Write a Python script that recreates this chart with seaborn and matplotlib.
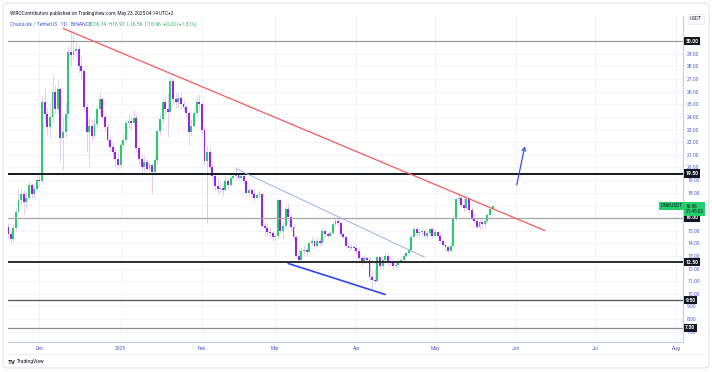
import numpy as np
import pandas as pd
import matplotlib
matplotlib.use("Agg")
import matplotlib.pyplot as plt
import matplotlib.dates as mdates
import matplotlib.transforms as mtransforms
from matplotlib.patches import FancyBboxPatch
from matplotlib.lines import Line2D
import seaborn as sns

# daily candles LINK/USDT (Nov 19 2024 -> May 23 2025)
nov_open = [15.3, 14.7, 14.3, 15.2, 16.5, 17.4, 17.9, 17.3, 17.6, 18.6, 17.9, 18.3]
nov_high = [15.6, 15.0, 15.5, 16.8, 18.3, 18.4, 18.2, 18.1, 18.9, 18.8, 18.6, 19.3]
nov_low = [14.4, 14.0, 14.1, 15.0, 16.3, 17.0, 16.3, 16.9, 17.4, 17.6, 17.7, 18.2]
nov_close = [14.7, 14.3, 15.2, 16.5, 17.4, 17.9, 17.3, 17.6, 18.6, 17.9, 18.3, 19.0]

dec_open = [19.0, 18.9, 25.2, 24.2, 23.2, 24.0, 26.0, 24.6, 26.2, 22.3, 22.8, 24.2, 29.1, 28.9, 29.2, 29.4,
            28.0, 27.6, 24.8, 22.8, 23.3, 22.5, 23.4, 24.6, 25.4, 24.0, 23.2, 22.2, 21.6, 21.2, 20.7]
dec_high = [19.6, 25.6, 26.3, 24.8, 25.2, 27.3, 26.5, 26.8, 26.4, 24.0, 25.2, 29.6, 30.9, 30.5, 30.0, 29.6,
            28.7, 27.9, 25.1, 24.0, 23.8, 23.9, 24.9, 26.0, 25.6, 24.3, 23.5, 22.6, 22.0, 21.6, 21.2]
dec_low = [18.5, 18.7, 23.8, 22.6, 22.4, 23.6, 24.2, 24.3, 20.5, 19.8, 22.3, 24.0, 28.0, 28.5, 28.7, 27.5,
           26.8, 24.4, 21.2, 20.1, 22.0, 22.3, 23.1, 24.3, 23.7, 22.8, 21.8, 21.2, 20.7, 20.0, 19.9]
dec_close = [18.9, 25.2, 24.2, 23.2, 24.0, 26.0, 24.6, 26.2, 22.3, 22.8, 24.2, 29.1, 28.9, 29.2, 29.4, 28.0,
             27.6, 24.8, 22.8, 23.3, 22.5, 23.4, 24.6, 25.4, 24.0, 23.2, 22.2, 21.6, 21.2, 20.7, 20.2]

jan_open = [20.2, 21.8, 22.2, 23.5, 23.7, 23.5, 23.9, 21.5, 20.7, 20.0, 20.4, 19.9, 20.2, 19.6, 20.6, 22.9,
            23.8, 25.2, 24.6, 24.4, 26.8, 25.4, 25.2, 25.5, 25.0, 24.8, 24.3, 22.8, 23.3, 24.3, 25.2]
jan_high = [22.0, 22.7, 23.8, 24.2, 24.0, 24.6, 24.2, 21.8, 21.0, 20.9, 20.7, 20.5, 20.3, 20.9, 23.2, 24.3,
            25.5, 25.6, 25.9, 27.2, 27.1, 25.9, 26.0, 26.0, 25.3, 25.0, 24.4, 23.8, 24.6, 25.6, 25.8]
jan_low = [20.0, 21.5, 22.0, 23.1, 23.0, 23.3, 21.2, 20.2, 19.5, 19.6, 19.7, 19.7, 18.0, 19.4, 20.3, 22.6,
           23.5, 24.1, 22.4, 24.2, 25.0, 24.7, 24.8, 24.6, 24.5, 24.0, 21.8, 22.6, 23.1, 24.1, 24.5]
jan_close = [21.8, 22.2, 23.5, 23.7, 23.5, 23.9, 21.5, 20.7, 20.0, 20.4, 19.9, 20.2, 19.6, 20.6, 22.9, 23.8,
             25.2, 24.6, 24.4, 26.8, 25.4, 25.2, 25.5, 25.0, 24.8, 24.3, 22.8, 23.3, 24.3, 25.2, 25.0]

feb_open = [25.0, 23.0, 20.5, 21.2, 20.0, 19.3, 18.5, 18.3, 18.4, 18.2, 18.9, 18.6, 19.2, 19.3,
            19.5, 19.2, 19.3, 18.9, 18.0, 18.2, 17.9, 17.6, 17.8, 17.9, 15.4, 15.2, 14.9, 14.8]
feb_high = [25.2, 23.3, 21.8, 21.6, 20.3, 19.6, 19.2, 18.9, 18.7, 19.3, 19.2, 19.5, 19.7, 20.0,
            19.6, 19.5, 19.5, 19.0, 18.5, 18.4, 18.2, 18.0, 18.2, 18.0, 15.8, 15.6, 15.3, 15.0]
feb_low = [22.7, 20.2, 15.6, 19.8, 19.0, 18.2, 17.9, 18.0, 17.8, 18.1, 18.4, 18.5, 19.0, 19.1,
           19.0, 19.0, 18.7, 17.8, 17.7, 17.6, 17.3, 17.5, 17.6, 15.2, 14.6, 14.6, 14.3, 14.2]
feb_close = [23.0, 20.5, 21.2, 20.0, 19.3, 18.5, 18.3, 18.4, 18.2, 18.9, 18.6, 19.2, 19.3, 19.5,
             19.2, 19.3, 18.9, 18.0, 18.2, 17.9, 17.6, 17.8, 17.9, 15.4, 15.2, 14.9, 14.8, 14.5]

mar_open = [14.5, 14.6, 17.4, 15.0, 15.4, 16.7, 16.1, 15.3, 14.5, 13.0, 12.7, 13.4, 13.5, 13.3, 14.0, 14.2,
            13.8, 14.2, 14.0, 15.0, 14.7, 14.6, 14.8, 15.5, 15.8, 15.6, 14.7, 14.5, 13.8, 13.6, 13.7]
mar_high = [14.8, 17.6, 17.5, 15.8, 17.0, 17.2, 16.3, 15.5, 14.6, 13.6, 13.7, 13.9, 13.7, 14.2, 14.5, 14.3,
            14.5, 14.4, 15.3, 15.1, 14.9, 15.0, 15.7, 16.0, 16.0, 15.7, 14.9, 14.6, 13.9, 14.0, 13.9]
mar_low = [14.2, 14.4, 14.8, 14.3, 15.1, 15.8, 15.0, 14.2, 12.8, 12.4, 12.5, 13.1, 13.0, 13.2, 13.9, 13.6,
           13.7, 13.8, 13.9, 14.5, 14.4, 14.5, 14.7, 15.3, 15.4, 14.6, 14.3, 13.6, 13.4, 13.5, 13.3]
mar_close = [14.6, 17.4, 15.0, 15.4, 16.7, 16.1, 15.3, 14.5, 13.0, 12.7, 13.4, 13.5, 13.3, 14.0, 14.2, 13.8,
             14.2, 14.0, 15.0, 14.7, 14.6, 14.8, 15.5, 15.8, 15.6, 14.7, 14.5, 13.8, 13.6, 13.7, 13.6]

apr_open = [13.6, 13.4, 12.8, 12.6, 12.8, 12.7, 11.3, 11.1, 11.0, 12.9, 12.2, 12.7, 13.0, 12.5, 12.6,
            12.2, 12.3, 12.6, 12.7, 13.0, 13.2, 13.5, 14.5, 15.1, 14.8, 14.9, 15.0, 14.6, 14.8, 15.1]
apr_high = [13.9, 13.6, 13.0, 13.1, 13.0, 12.9, 11.9, 12.0, 13.1, 12.9, 12.9, 13.3, 13.2, 13.0, 12.8,
            12.6, 12.8, 12.9, 13.2, 13.4, 13.8, 14.7, 15.4, 15.3, 15.2, 15.3, 15.1, 15.0, 15.3, 15.2]
apr_low = [13.1, 12.6, 12.2, 12.4, 12.5, 11.1, 10.3, 10.8, 10.9, 12.0, 12.0, 12.5, 12.3, 12.3, 12.0,
           12.0, 12.1, 12.5, 12.6, 12.9, 13.1, 13.4, 14.4, 14.5, 14.5, 14.6, 14.4, 14.3, 14.6, 14.4]
apr_close = [13.4, 12.8, 12.6, 12.8, 12.7, 11.3, 11.1, 11.0, 12.9, 12.2, 12.7, 13.0, 12.5, 12.6, 12.2,
             12.3, 12.6, 12.7, 13.0, 13.2, 13.5, 14.5, 15.1, 14.8, 14.9, 15.0, 14.6, 14.8, 15.1, 14.6]

may_open = [14.6, 14.9, 14.6, 14.2, 13.9, 13.7, 13.4, 13.8, 16.0, 17.5, 17.6, 17.0,
            16.8, 17.5, 16.6, 16.0, 15.8, 15.3, 15.7, 15.5, 15.8, 16.2, 16.74]
may_high = [15.1, 15.0, 14.7, 14.3, 14.0, 13.8, 14.1, 16.2, 17.7, 18.0, 17.8, 17.9,
            17.8, 17.7, 16.9, 16.3, 16.0, 15.9, 15.9, 16.0, 16.4, 16.9, 16.97]
may_low = [14.5, 14.4, 14.1, 13.8, 13.5, 13.2, 13.3, 13.7, 15.8, 17.2, 16.8, 16.5,
           16.6, 16.4, 15.8, 15.5, 15.1, 15.1, 15.1, 15.3, 15.6, 16.1, 16.59]
may_close = [14.9, 14.6, 14.2, 13.9, 13.7, 13.4, 13.8, 16.0, 17.5, 17.6, 17.0, 16.8,
             17.5, 16.6, 16.0, 15.8, 15.3, 15.7, 15.5, 15.8, 16.2, 16.74, 16.96]

# drawings on the chart
level_prices = [30.0, 19.5, 16.0, 12.5, 9.5, 7.3]
level_labels = ["30.00", "19.50", "16.00", "12.50", "9.50", "7.30"]
level_colors = ["#9a9a9a", "#131722", "#a6a6a6", "#2b2b2b", "#5c5c5c", "#8c8c8c"]
level_widths = [0.9, 1.4, 0.9, 1.4, 1.0, 0.9]

red_dates = ["2024-12-10", "2025-06-12"]
red_prices = [31.0, 15.0]
channel_dates = ["2025-02-14", "2025-04-27"]
channel_prices = [19.9, 12.9]
support_dates = ["2025-03-06", "2025-04-12"]
support_prices = [12.4, 9.95]
arrow_dates = ["2025-06-01T00:00", "2025-06-04T12:00"]
arrow_prices = [18.4, 21.9]

month_starts = ["2024-12-01", "2025-01-01", "2025-02-01", "2025-03-01", "2025-04-01",
                "2025-05-01", "2025-06-01", "2025-07-01", "2025-08-01"]
month_labels = ["Dec", "2025", "Feb", "Mar", "Apr", "May", "Jun", "Jul", "Aug"]
price_ticks = list(range(7, 31))
hidden_ticks = [16, 17, 30]   # covered by the level / last-price boxes

o = np.array(nov_open + dec_open + jan_open + feb_open + mar_open + apr_open + may_open)
h = np.array(nov_high + dec_high + jan_high + feb_high + mar_high + apr_high + may_high)
l = np.array(nov_low + dec_low + jan_low + feb_low + mar_low + apr_low + may_low)
c = np.array(nov_close + dec_close + jan_close + feb_close + mar_close + apr_close + may_close)
dates = pd.date_range("2024-11-19", periods=len(c), freq="D")
x = mdates.date2num(dates)

df = pd.DataFrame({"date": x, "open": o, "high": h, "low": l, "close": c})

sns.set_theme(style="white")
plt.rcParams["font.family"] = ["Roboto", "DejaVu Sans"]

W, H = 712, 372
fig = plt.figure(figsize=(W / 100, H / 100), dpi=100)
fig.patch.set_facecolor("white")

def fx(px):
    return px / W

def fy(py):
    return 1 - py / H

def to_num(ds):
    return mdates.date2num(pd.to_datetime(ds, format="ISO8601"))

ax = fig.add_axes([fx(8), fy(342), fx(675), (342 - 17) / H])
ax.set_facecolor("white")

up, down, wick = "#22cf6b", "#9b1ff0", "#dcc4f6"
cols = np.where(df["close"] >= df["open"], up, down)

# grid
for m in to_num(month_starts):
    ax.axvline(m, color="#f1f3f9", lw=0.6, zorder=0)
for p in price_ticks:
    ax.axhline(p, color="#f1f3f9", lw=0.6, zorder=0)

ax.vlines(df["date"], df["low"], df["high"], color=wick, lw=0.6, zorder=2)
bottom = np.minimum(df["open"], df["close"])
height = np.maximum((df["close"] - df["open"]).abs(), 0.06)
ax.bar(df["date"], height, bottom=bottom, width=0.72, color=cols, linewidth=0, zorder=3)

for p, col, lw in zip(level_prices, level_colors, level_widths):
    ax.axhline(p, color=col, lw=lw, zorder=4)

sns.lineplot(x=to_num(red_dates), y=red_prices, ax=ax, color="#f25a5a", lw=0.9, zorder=5)
sns.lineplot(x=to_num(channel_dates), y=channel_prices, ax=ax, color="#a3aaf0", lw=0.7, zorder=5)
sns.lineplot(x=to_num(support_dates), y=support_prices, ax=ax, color="#3144e6", lw=1.2, zorder=5)
ad = to_num(arrow_dates)
ax.annotate("", xy=(ad[1], arrow_prices[1]), xytext=(ad[0], arrow_prices[0]),
            arrowprops=dict(arrowstyle="->", color="#3453ee", lw=0.9, mutation_scale=6), zorder=6)

ax.set_xlim(to_num(["2024-11-19"])[0] - 0.0, to_num(["2025-08-01"])[0] + 2.67)
ax.set_ylim(6.19, 31.9)

ax.set_xticks(to_num(month_starts))
ax.set_xticklabels(month_labels)
ax.set_yticks(price_ticks)
ax.set_yticklabels(["" if p in hidden_ticks else f"{p:.2f}" for p in price_ticks])
ax.yaxis.tick_right()
ax.tick_params(axis="y", length=0, pad=3, labelsize=3.6, labelcolor="#4b5bd6")
ax.tick_params(axis="x", length=0, pad=3, labelsize=3.6, labelcolor="#4b5bd6")
for s in ["top", "left"]:
    ax.spines[s].set_visible(False)
for s in ["right", "bottom"]:
    ax.spines[s].set_color("#c3c9f5")
    ax.spines[s].set_linewidth(0.8)
ax.set_xlabel("")
ax.set_ylabel("")

# price-axis labels for the drawn levels
trans = mtransforms.blended_transform_factory(ax.transAxes, ax.transData)
for p, lab in zip(level_prices, level_labels):
    ax.text(1.0035, p, lab, transform=trans, ha="left", va="center", fontsize=3.6,
            color="white", fontweight="bold", clip_on=False, zorder=10,
            bbox=dict(boxstyle="square,pad=0.35", fc="#131722", ec="none"))

ax.text(0.999, 16.96, "LINKUSDT", transform=trans, ha="right", va="center", fontsize=3.4,
        color="#131722", clip_on=False, zorder=10,
        bbox=dict(boxstyle="square,pad=0.35", fc="#22cf6b", ec="none"))
ax.text(1.0035, 16.72, "16.96\n21:45:02", transform=trans, ha="left", va="center", fontsize=3.4,
        color="#131722", linespacing=1.1, clip_on=False, zorder=10,
        bbox=dict(boxstyle="square,pad=0.35", fc="#22cf6b", ec="none"))

# header texts
fig.text(fx(10), fy(13), "WIROContributors published on TradingView.com, May 23, 2025 04:14 UTC+2",
         fontsize=3.4, color="#131722", va="center")
fig.text(fx(10), fy(24), "ChainLink / TetherUS · 1D · BINANCE", fontsize=3.6, color="#4b5bd6", va="center")
fig.text(fx(90), fy(24), "O16.74  H16.97  L16.59  C16.96  +0.22 (+1.31%)", fontsize=3.6,
         color="#22b25f", va="center")
fig.text(fx(696), fy(19), "USDT", fontsize=3.4, color="#131722", ha="center", va="center",
         bbox=dict(boxstyle="square,pad=0.5", fc="white", ec="#e0e3eb", lw=0.5))
fig.text(fx(8), fy(362), "TV", fontsize=4.4, color="#131722", fontweight="bold", va="center")
fig.text(fx(17), fy(362), "TradingView", fontsize=3.6, color="#131722", va="center")

# card and inner frame
fig.add_artist(Line2D([fx(8), fx(704)], [fy(354), fy(354)], color="#e6e9f0", lw=0.6))
card = FancyBboxPatch((fx(3), fy(368)), fx(706), (368 - 3) / H,
                      boxstyle="round,pad=0,rounding_size=0.008", transform=fig.transFigure,
                      fill=False, ec="#e0e3eb", lw=0.8)
fig.patches.append(card)

fig.savefig("out.png", dpi=100)
